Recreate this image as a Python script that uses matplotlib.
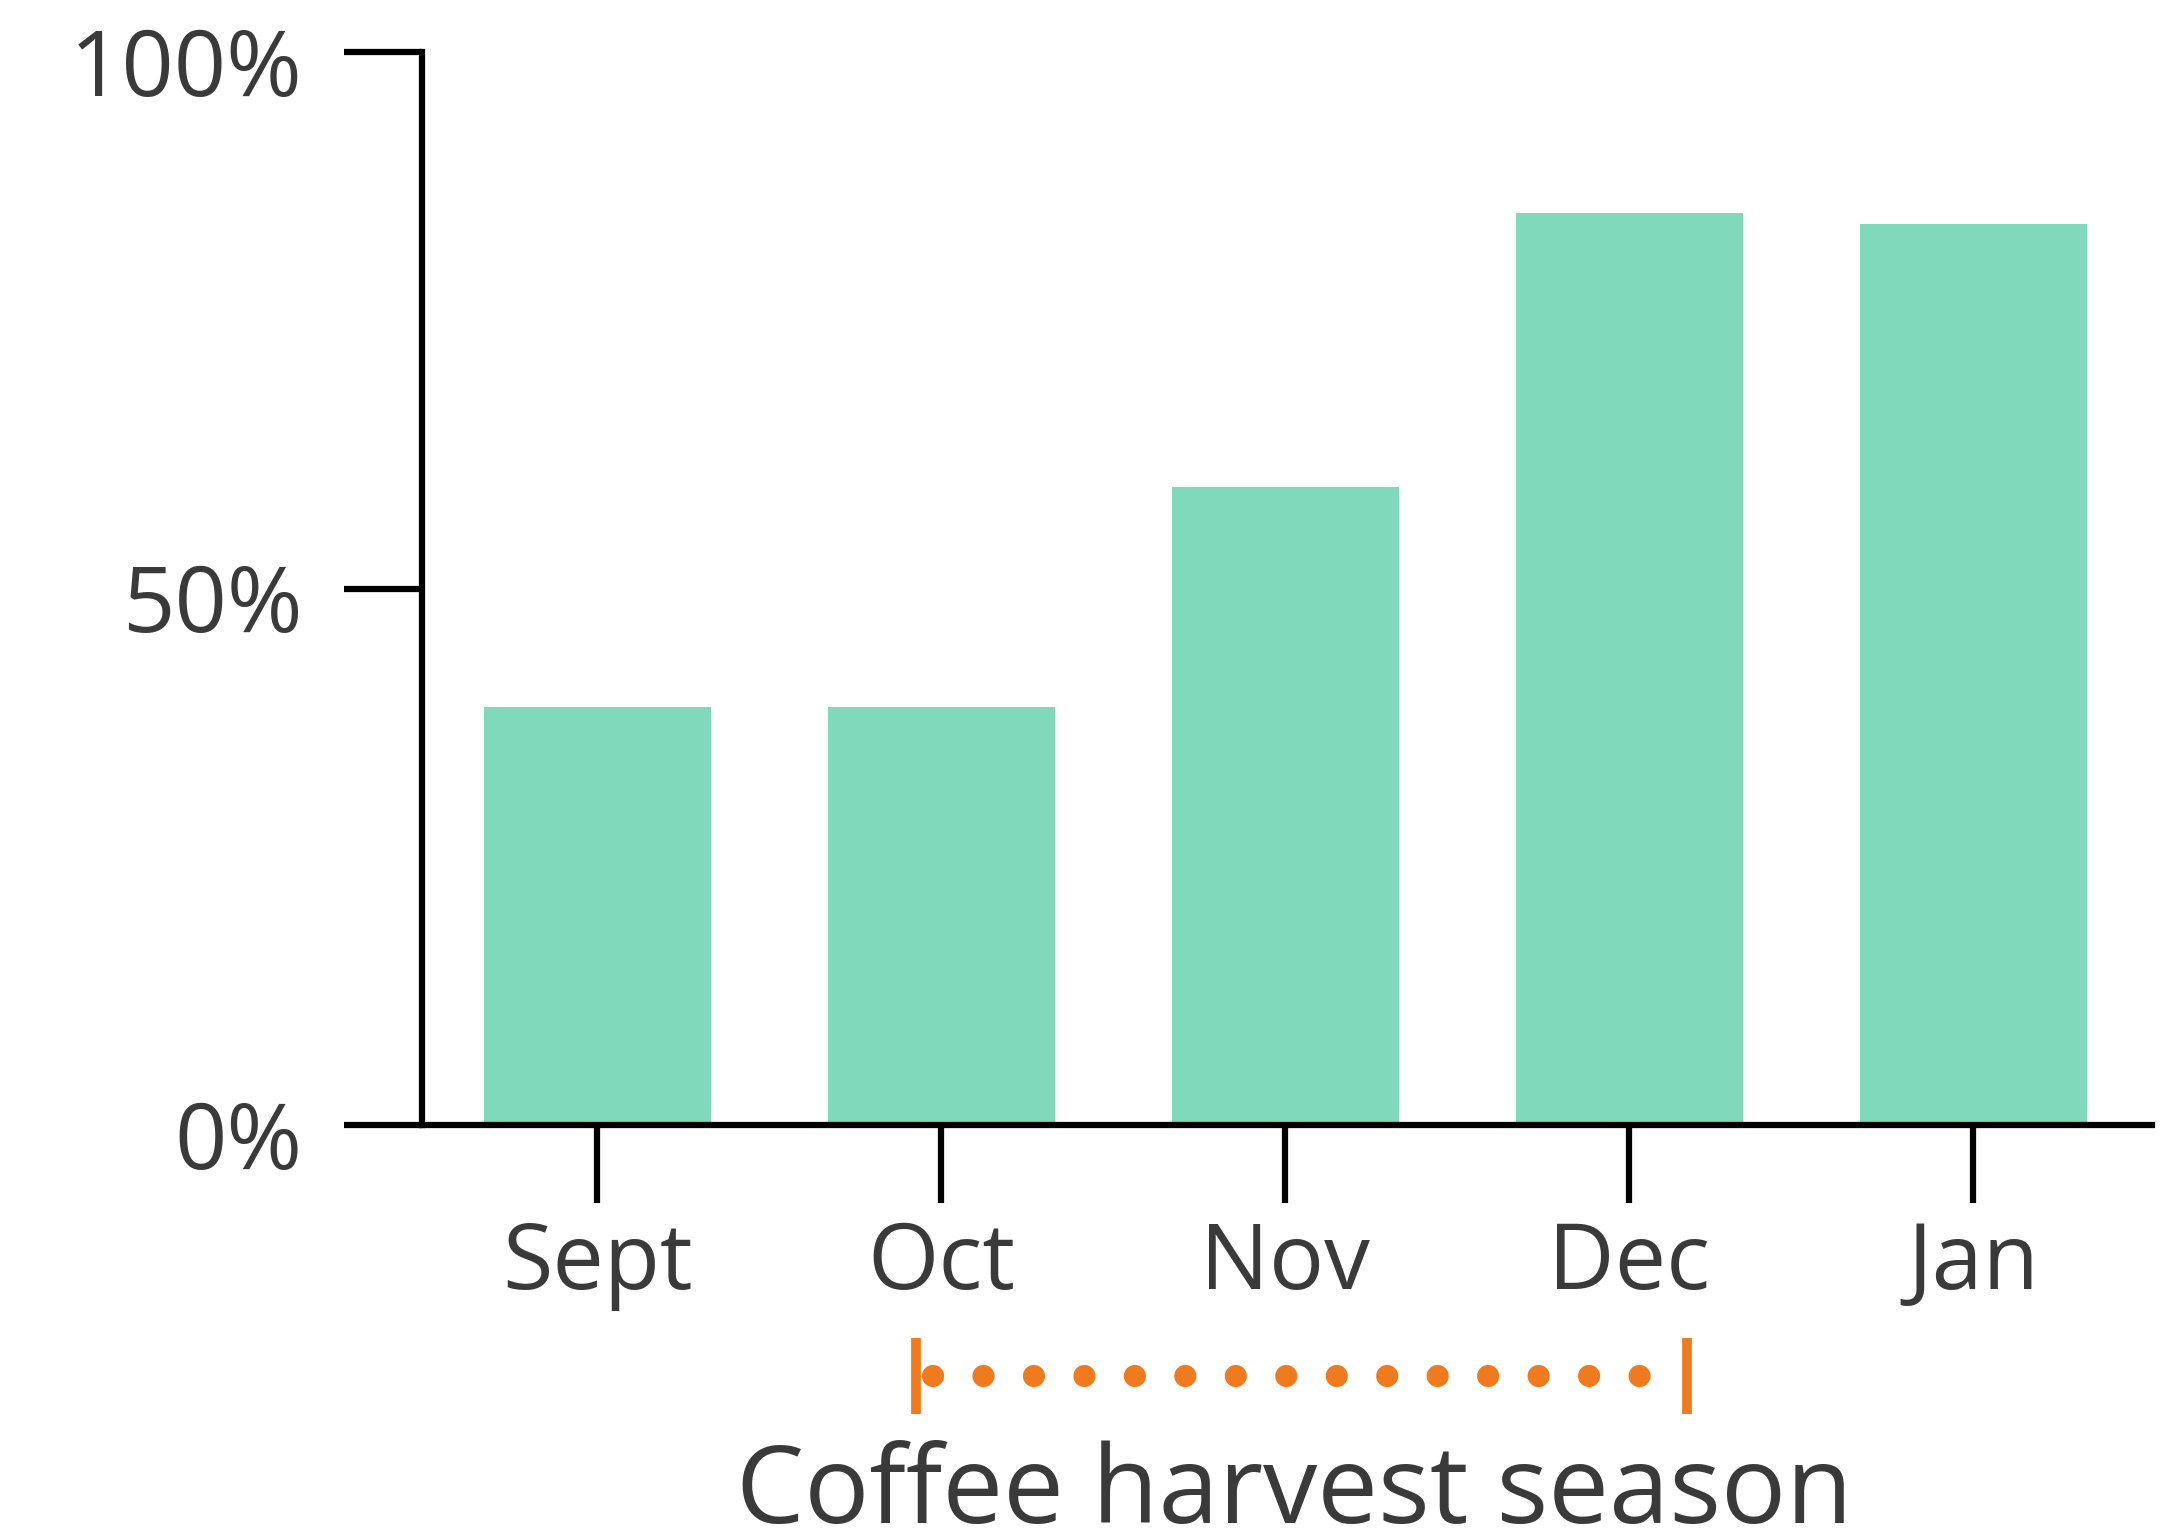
import matplotlib
matplotlib.use("Agg")
import matplotlib.pyplot as plt
import matplotlib.transforms as mtransforms

# --- data ---
months = ["Sept", "Oct", "Nov", "Dec", "Jan"]
share = [39, 39, 59.5, 85, 84]
y_ticks = [0, 50, 100]
y_labels = ["0%", "50%", "100%"]
season_label = "Coffee harvest season"
season_start, season_end = "Oct", "Dec"

BAR = "#80d9bb"
ORANGE = "#f07a1e"
TEXT = "#3a3a3a"

plt.rcParams["font.family"] = ["Open Sans", "DejaVu Sans"]

fig = plt.figure(figsize=(21.77, 15.36), dpi=100)
ax = fig.add_axes([0.1938, 0.2676, 0.7947, 0.6985])

x = range(len(months))
ax.bar(x, share, width=0.66, color=BAR, zorder=1)

ax.set_xlim(-0.51, 4.52)
ax.set_ylim(0, 100)

for side in ["top", "right"]:
    ax.spines[side].set_visible(False)
for side in ["left", "bottom"]:
    ax.spines[side].set_linewidth(4.5)
    ax.spines[side].set_color("black")
    ax.spines[side].set_capstyle("projecting")

ax.set_xticks(list(x))
ax.set_xticklabels(months)
ax.set_yticks(y_ticks)
ax.set_yticklabels(y_labels)
ax.tick_params(axis="both", length=56, width=4.5, color="black",
               labelsize=66, labelcolor=TEXT)
ax.tick_params(axis="y", pad=30)
ax.tick_params(axis="x", pad=12)

# y labels sit a little below their ticks in the original
shift = mtransforms.ScaledTranslation(0, -9 / 100, fig.dpi_scale_trans)
for lab in ax.get_yticklabels():
    lab.set_transform(lab.get_transform() + shift)

# harvest-season bracket under the month labels
i0 = months.index(season_start)
i1 = months.index(season_end)
tr = ax.get_xaxis_transform()
ax.plot([i0 - 0.024, i1 + 0.034], [-0.234, -0.234], transform=tr,
        color=ORANGE, lw=16, linestyle=(0, (0.001, 2.27)),
        dash_capstyle="round", clip_on=False)
ax.plot([i0 - 0.073, i0 - 0.073], [-0.199, -0.269], transform=tr,
        color=ORANGE, lw=7, clip_on=False, solid_capstyle="butt")
ax.plot([i1 + 0.167, i1 + 0.167], [-0.199, -0.269], transform=tr,
        color=ORANGE, lw=7, clip_on=False, solid_capstyle="butt")
ax.text((i0 + i1) / 2 + 0.026, -0.371, season_label, transform=tr,
        ha="center", va="baseline", fontsize=78, color=TEXT)

fig.savefig("out.png", dpi=100, facecolor="white")
